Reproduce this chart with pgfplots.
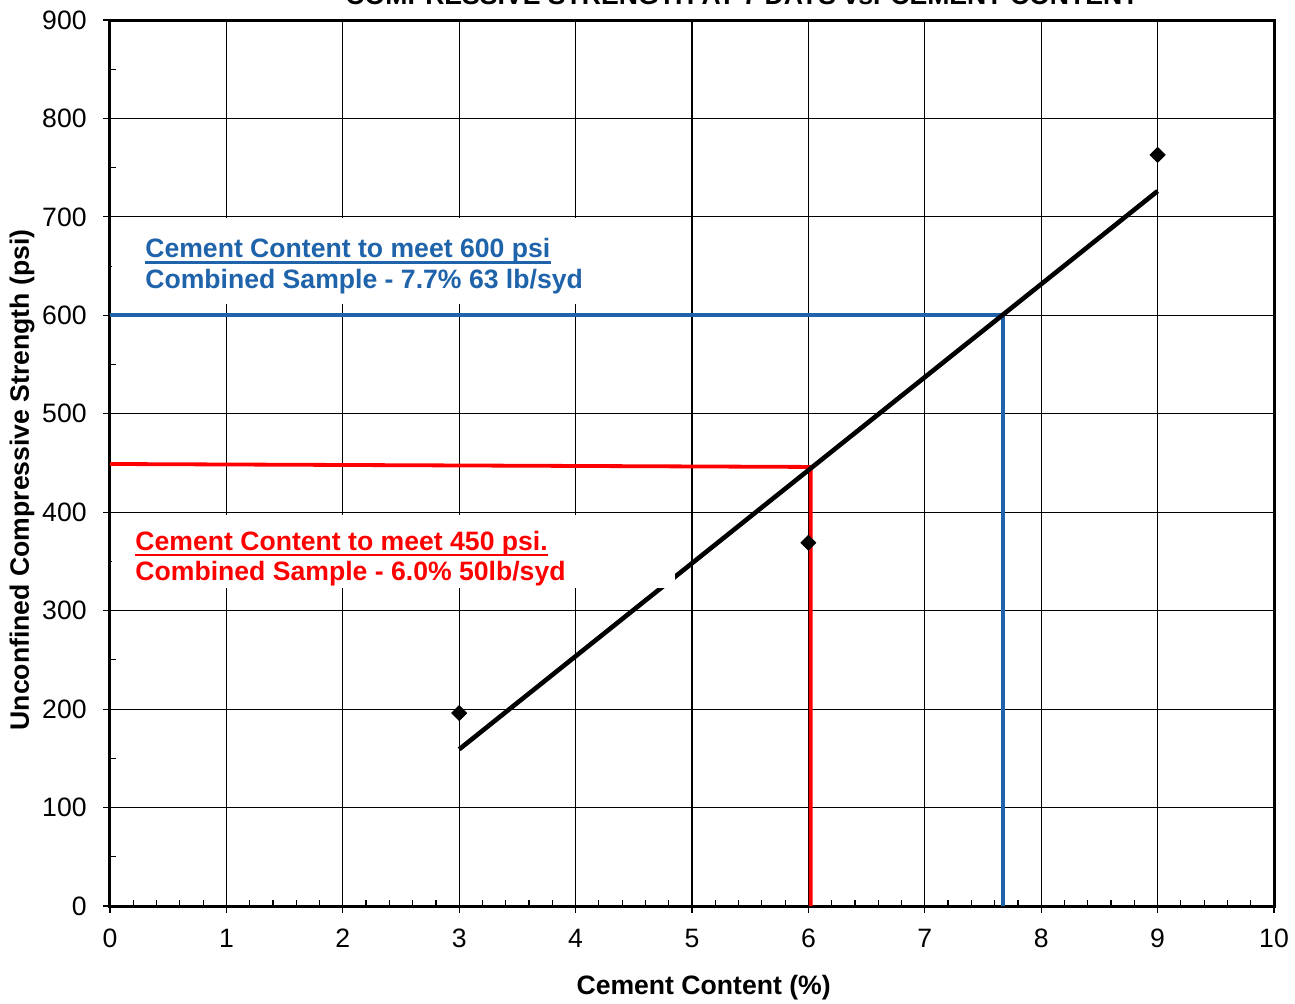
\documentclass[border=0pt]{standalone}
\usepackage{fontspec}
\setmainfont{Liberation Sans}
\usepackage{pgfplots}
\pgfplotsset{compat=1.18}
\definecolor{cblue}{RGB}{31,99,170}
\definecolor{cred}{RGB}{255,0,0}
\newcommand{\chartfont}{\fontsize{13.3}{16}\selectfont}
\begin{document}
\begin{tikzpicture}
\useasboundingbox (-55pt,-48.5pt) rectangle (592.5pt,453pt);
\clip (-55pt,-48.5pt) rectangle (592.5pt,453pt);
\begin{axis}[
  at={(0pt,0pt)}, anchor=south west,
  scale only axis, width=582pt, height=443pt,
  xmin=0, xmax=10, ymin=0, ymax=900,
  xtick={0,1,...,10}, ytick={0,100,...,900},
  minor x tick num=4, minor y tick num=1,
  grid=major, major grid style={black, line width=0.6pt},
  axis line style={line width=1.5pt},
  xtick pos=left, ytick pos=left,
  tick align=inside,
  major tick length=3.5pt, minor tick length=3pt,
  tick style={black, line width=0.6pt},
  extra x ticks={0,1,...,10}, extra x tick labels={},
  extra y ticks={0,100,...,900}, extra y tick labels={},
  extra tick style={tick align=outside, grid=none, major tick length=3.5pt},
  /pgf/number format/assume math mode=true,
  xticklabel style={font=\chartfont, anchor=base, inner sep=0pt, yshift=-20.5pt},
  yticklabel style={font=\chartfont, anchor=east, inner sep=0pt, xshift=-11.5pt},
  xlabel={Cement Content (\%)},
  xlabel style={font=\chartfont\bfseries, at={(axis description cs:0.510,-0.0926)}, anchor=center},
  ylabel={Unconfined Compressive Strength (psi)},
  ylabel style={font=\chartfont\bfseries, at={(axis description cs:-0.0756,0.481)}, anchor=center},
  clip=false,
]
% guide lines
\addplot[cblue, line width=1.9pt, no marks] coordinates {(0,600) (7.67,600) (7.67,0)};
\addplot[cred, line width=1.9pt, no marks] coordinates {(0,449) (6.02,446) (6.02,0)};
% trend line
\addplot[black, line width=2.3pt, no marks] coordinates {(3,159.2) (9,726.2)};
% text boxes
\fill[white] (axis cs:0.02,611.5) rectangle (axis cs:4.21,698.9);
\fill[white] (axis cs:0.02,323.0) rectangle (axis cs:4.854,397.2);
\node[anchor=base west, inner sep=0pt, font=\chartfont\bfseries, text=cblue] (b1) at (axis cs:0.30,658.5) {Cement Content to meet 600 psi};
\draw[cblue, line width=1.3pt] ([yshift=-2.5pt]b1.base west) -- ([yshift=-2.5pt]b1.base east);
\node[anchor=base west, inner sep=0pt, font=\chartfont\bfseries, text=cblue] at ([yshift=-15.5pt]b1.base west) {Combined Sample - 7.7\% 63 lb/syd};
\node[anchor=base west, inner sep=0pt, font=\chartfont\bfseries, text=cred] (r1) at (axis cs:0.215,360.7) {Cement Content to meet 450 psi.};
\draw[cred, line width=1.3pt] ([yshift=-2pt]r1.base west) -- ([yshift=-2pt]r1.base east);
\node[anchor=base west, inner sep=0pt, font=\chartfont\bfseries, text=cred] at ([yshift=-15pt]r1.base west) {Combined Sample - 6.0\% 50lb/syd};
% data points
\addplot[only marks, mark=square*, mark size=2.65pt, mark options={rotate=45, fill=black, draw=black}] coordinates {(3,196) (6,369) (9,763)};
% title (partly cut off at the top, as in the reference)
\node[font=\chartfont\bfseries, anchor=base] at (rel axis cs:0.543,1.018) {COMPRESSIVE STRENGTH AT 7 DAYS vs. CEMENT CONTENT};
\end{axis}
\end{tikzpicture}
\end{document}
